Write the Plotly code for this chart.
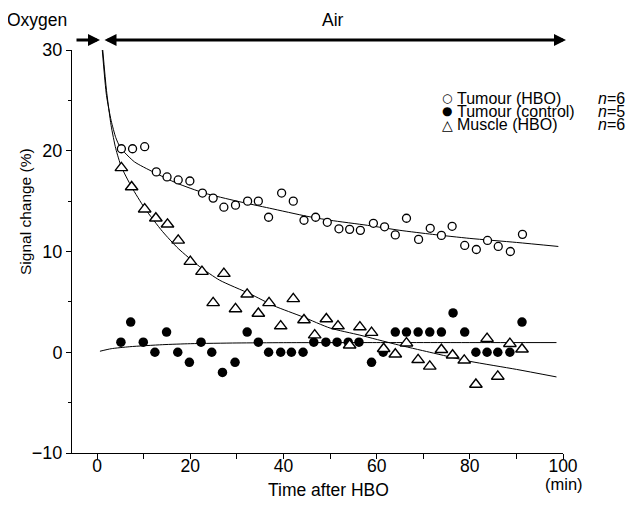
import plotly.graph_objects as go

# ---------------- data ----------------
hbo_x = [5.2, 7.6, 10.2, 12.7, 15.0, 17.4, 19.9, 22.6, 24.9, 27.2, 29.7, 32.3,
         34.6, 36.8, 39.6, 42.1, 44.4, 46.9, 49.4, 51.9, 54.2, 56.5, 59.3, 61.7,
         64.0, 66.4, 69.0, 71.5, 73.9, 76.2, 78.9, 81.4, 83.8, 86.1, 88.7, 91.3]
hbo_y = [20.2, 20.2, 20.4, 17.9, 17.4, 17.1, 17.0, 15.8, 15.3, 14.4, 14.6, 15.0,
         15.0, 13.4, 15.8, 15.0, 13.1, 13.4, 12.9, 12.25, 12.2, 12.1, 12.8, 12.45,
         11.65, 13.3, 11.2, 12.3, 11.6, 12.5, 10.6, 10.2, 11.1, 10.5, 10.0, 11.7]

ctrl_x = [5.1, 7.2, 9.9, 12.4, 14.9, 17.3, 19.8, 22.3, 24.6, 26.9, 29.6, 32.2,
          34.6, 36.8, 39.4, 41.7, 44.2, 46.5, 49.1, 51.5, 53.9, 56.2, 58.9, 61.4,
          64.0, 66.4, 68.9, 71.4, 73.9, 76.4, 78.9, 81.3, 83.7, 86.0, 88.6, 91.2]
ctrl_y = [1, 3, 1, 0, 2, 0, -1, 1, 0, -2, -1, 2,
          1, 0, 0, 0, 0, 1, 1, 1, 1, 1, -1, 0,
          2, 2, 2, 2, 2, 3.9, 2, 0, 0, 0, 0, 3]

musc_x = [5.2, 7.4, 10.2, 12.6, 15.1, 17.4, 20.0, 22.5, 24.9, 27.2, 29.7, 32.2,
          34.6, 36.9, 39.4, 42.1, 44.4, 46.7, 49.2, 51.7, 54.2, 56.4, 58.9, 61.5,
          64.0, 66.4, 68.9, 71.4, 73.9, 76.3, 78.8, 81.3, 83.7, 86.0, 88.6, 91.2]
musc_y = [18.3, 16.4, 14.2, 13.3, 12.7, 11.1, 9.0, 8.0, 4.9, 7.8, 4.3, 5.75,
          3.85, 4.9, 2.6, 5.3, 3.2, 1.7, 3.3, 2.6, 0.7, 2.5, 1.95, 0.35,
          -0.2, 0.9, -0.75, -1.4, 0.25, -0.3, -0.8, -3.2, 1.35, -2.4, 0.85, 0.3]

# fitted curves
fit_hbo_x = [1.1, 2, 3, 4, 5, 8, 12, 17, 23, 30, 37, 45, 50, 58, 65, 72, 80, 90, 99]
fit_hbo_y = [30, 25.5, 23, 21.3, 20.3, 18.9, 17.9, 16.8, 15.8, 15.0, 14.3, 13.5,
             13.1, 12.6, 12.1, 11.7, 11.3, 10.9, 10.5]

fit_musc_x = [1.2, 2, 3, 4, 5.2, 7.4, 10.2, 14, 17.4, 22, 26.3, 32.8, 38, 44.2,
              50, 56.4, 64, 71.4, 80, 90, 98.6]
fit_musc_y = [30, 26, 22.5, 20.2, 18.4, 16.4, 14.3, 12.0, 10.3, 8.5, 7.15, 5.8,
              4.6, 3.5, 2.4, 1.7, 0.8, 0.0, -0.9, -1.7, -2.45]

fit_ctrl_x = [0.6, 3, 7, 14, 20, 30, 40, 60, 80, 98.6]
fit_ctrl_y = [0.1, 0.35, 0.55, 0.75, 0.85, 0.92, 0.95, 0.96, 0.96, 0.96]

x_ticks = [0, 20, 40, 60, 80, 100]
y_ticks = [-10, 0, 10, 20, 30]
y_ticktext = ["\u221210", "0", "10", "20", "30"]

legend_names = ["Tumour (HBO)", "Tumour (control)", "Muscle (HBO)"]
legend_symbols = ["\u25cb", "\u25cf", "\u25b3"]
legend_n = ["6", "5", "6"]

# ---------------- figure ----------------
FONT = "Liberation Sans, Arial, sans-serif"
OFF = 8                      # page body margin
W, H = 644 - OFF, 505 - OFF
ML, MR, MT, MB = 64, 81, 42, 52
PW, PH = W - ML - MR, H - MT - MB

def px(xs):                  # screen x -> paper
    return (xs - OFF - ML) / PW

def py(ys):                  # screen y -> paper
    return (H - MB - (ys - OFF)) / PH

fig = go.Figure()
line_style = dict(color="black", width=1, shape="spline", smoothing=0.6)
for fx, fy in [(fit_hbo_x, fit_hbo_y), (fit_musc_x, fit_musc_y), (fit_ctrl_x, fit_ctrl_y)]:
    fig.add_trace(go.Scatter(x=fx, y=fy, mode="lines", line=line_style,
                             showlegend=False, hoverinfo="skip"))

fig.add_trace(go.Scatter(x=hbo_x, y=hbo_y, mode="markers", name=legend_names[0],
                         marker=dict(symbol="circle", size=8, color="white",
                                     line=dict(color="black", width=1.3))))
fig.add_trace(go.Scatter(x=ctrl_x, y=ctrl_y, mode="markers", name=legend_names[1],
                         marker=dict(symbol="circle", size=9.5, color="black",
                                     line=dict(color="black", width=0))))
fig.add_trace(go.Scatter(x=musc_x, y=musc_y, mode="markers", name=legend_names[2],
                         marker=dict(symbol="triangle-up", size=11, color="white",
                                     line=dict(color="black", width=1.4))))

fig.update_layout(
    width=W, height=H,
    margin=dict(l=ML, r=MR, t=MT, b=MB),
    paper_bgcolor="white", plot_bgcolor="white",
    showlegend=False,
    font=dict(family=FONT, color="black", size=17),
)
fig.update_xaxes(range=[-5.4, 100], showgrid=False, zeroline=False,
                 showline=True, linecolor="black", linewidth=1,
                 ticks="outside", ticklen=5, tickwidth=1, tickcolor="black",
                 tickvals=x_ticks, ticktext=[str(v) for v in x_ticks],
                 tickfont=dict(size=17.5, family=FONT), ticklabelstandoff=-8,
                 minor=dict(tickvals=[10, 30, 50, 70, 90], ticks="outside",
                            ticklen=5, tickcolor="black", tickwidth=1))
fig.update_yaxes(range=[-10, 30], showgrid=False, zeroline=False,
                 showline=True, linecolor="black", linewidth=1,
                 ticks="outside", ticklen=5, tickwidth=1, tickcolor="black",
                 tickvals=y_ticks, ticktext=y_ticktext,
                 tickfont=dict(size=18, family=FONT),
                 minor=dict(tickvals=[-5, 5, 15, 25], ticks="outside",
                            ticklen=3, tickcolor="black", tickwidth=1))

ann = []
# axis texts
ann.append(dict(text="Signal change (%)", x=px(25), y=py(212), xref="paper", yref="paper",
                showarrow=False, textangle=-90, font=dict(size=15.5),
                xanchor="center", yanchor="middle"))
ann.append(dict(text="Time after HBO", x=px(328), y=py(490), xref="paper", yref="paper",
                showarrow=False, font=dict(size=17.5), xanchor="center", yanchor="middle"))
ann.append(dict(text="(min)", x=px(564), y=py(484), xref="paper", yref="paper",
                showarrow=False, font=dict(size=16.5), xanchor="center", yanchor="middle"))
# top labels
ann.append(dict(text="Oxygen", x=px(37), y=1.0 + (MT) / PH, xref="paper", yref="paper",
                showarrow=False, font=dict(size=17.5), xanchor="center", yanchor="top"))
ann.append(dict(text="Air", x=px(333), y=1.0 + (MT) / PH, xref="paper", yref="paper",
                showarrow=False, font=dict(size=17.5), xanchor="center", yanchor="top"))
# arrows
ann.append(dict(x=px(100), y=py(40), ax=-25, ay=0, xref="paper", yref="paper",
                axref="pixel", ayref="pixel", text="", showarrow=True,
                arrowhead=2, arrowsize=0.8, arrowwidth=3, arrowcolor="black"))
ann.append(dict(x=px(566), y=py(40), ax=-463, ay=0, xref="paper", yref="paper",
                axref="pixel", ayref="pixel", text="", showarrow=True,
                arrowhead=2, startarrowhead=2, arrowside="end+start",
                arrowsize=0.8, startarrowsize=0.8, arrowwidth=3, arrowcolor="black"))
# legend
for i, (sym, name, n) in enumerate(zip(legend_symbols, legend_names, legend_n)):
    yy = py(98 + 13.4 * i)
    ann.append(dict(text=sym, x=px(447), y=yy, xref="paper", yref="paper", showarrow=False,
                    font=dict(size=12 if i < 2 else 14, family="DejaVu Sans"),
                    xanchor="center", yanchor="middle"))
    ann.append(dict(text=name, x=px(455), y=yy, xref="paper", yref="paper", showarrow=False,
                    font=dict(size=16), xanchor="left", yanchor="middle"))
    ann.append(dict(text="<i>n</i>=" + n, x=px(627), y=yy, xref="paper", yref="paper",
                    showarrow=False, font=dict(size=16), xanchor="right", yanchor="middle"))

fig.update_layout(annotations=ann)
fig.write_html("out.html")
